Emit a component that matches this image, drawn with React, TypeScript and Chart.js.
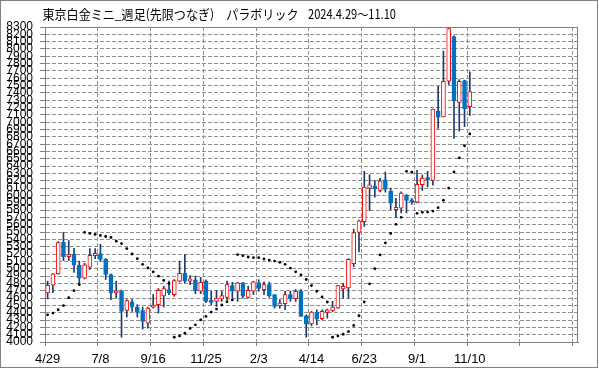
import React, { useEffect, useRef } from "react";
import { Chart, registerables } from "chart.js";

Chart.register(...registerables);

// weekly categories (2024/4/29 .. 2025/11/10, then empty future weeks)
const WEEKS = [
  "4/29", "5/6", "5/13", "5/20", "5/27", "6/3", "6/10", "6/17", "6/24", "7/1",
  "7/8", "7/15", "7/22", "7/29", "8/5", "8/12", "8/19", "8/26", "9/2", "9/9",
  "9/16", "9/23", "9/30", "10/7", "10/14", "10/21", "10/28", "11/4", "11/11", "11/18",
  "11/25", "12/2", "12/9", "12/16", "12/23", "12/30", "1/6", "1/13", "1/20", "1/27",
  "2/3", "2/10", "2/17", "2/24", "3/3", "3/10", "3/17", "3/24", "3/31", "4/7",
  "4/14", "4/21", "4/28", "5/5", "5/12", "5/19", "5/26", "6/2", "6/9", "6/16",
  "6/23", "6/30", "7/7", "7/14", "7/21", "7/28", "8/4", "8/11", "8/18", "8/25",
  "9/1", "9/8", "9/15", "9/22", "9/29", "10/6", "10/13", "10/20", "10/27", "11/3",
  "11/10", "11/17", "11/24", "12/1", "12/8", "12/15", "12/22", "12/29", "1/5", "1/12",
  "1/19", "1/26", "2/2", "2/9", "2/16", "2/23", "3/2", "3/9", "3/16", "3/23",
  "3/30",
];

const OPEN = [
  4670, 4775, 4930, 5360, 5165, 5200, 5046, 4871, 5022, 5180,
  5206, 5128, 4922, 4670, 4700, 4430, 4550, 4477, 4430, 4257,
  4477, 4509, 4629, 4716, 4647, 4830, 4936, 4830, 4850, 4693,
  4830, 4568, 4555, 4587, 4610, 4770, 4693, 4807, 4610, 4693,
  4807, 4716, 4784, 4647, 4495, 4523, 4647, 4591, 4693, 4358,
  4248, 4408, 4320, 4403, 4430, 4463, 4725, 4739, 5069, 5495,
  5642, 6101, 6128, 6069, 6215, 6060, 5807, 5826, 6010, 5940,
  5908, 6147, 6243, 6206, 7155, 7073, 7560, 8170, 7270, 7570,
  7214,
];
const HIGH = [
  4830, 4935, 5370, 5496, 5385, 5280, 5105, 5075, 5275, 5275,
  5335, 5140, 4930, 4830, 4710, 4578, 4578, 4509, 4477, 4477,
  4647, 4730, 4761, 4830, 4853, 5105, 5197, 4908, 4900, 4881,
  4849, 4693, 4703, 4693, 4830, 4816, 4816, 4816, 4761, 4830,
  4849, 4821, 4816, 4647, 4578, 4693, 4693, 4716, 4716, 4371,
  4417, 4440, 4440, 4450, 4555, 4775, 4800, 5138, 5540, 5665,
  6330, 6284, 6206, 6233, 6321, 6101, 5960, 6050, 6013, 5960,
  6344, 6280, 6330, 7178, 7490, 7972, 8280, 8180, 7583, 7575,
  7688,
];
const LOW = [
  4590, 4675, 4925, 5110, 5110, 4950, 4775, 4860, 4990, 5138,
  5100, 4853, 4578, 4600, 4065, 4340, 4417, 4340, 4175, 4188,
  4463, 4395, 4477, 4647, 4624, 4820, 4808, 4784, 4660, 4660,
  4536, 4509, 4486, 4555, 4578, 4600, 4555, 4600, 4600, 4647,
  4693, 4647, 4610, 4463, 4463, 4440, 4555, 4555, 4349, 4065,
  4220, 4234, 4303, 4326, 4415, 4460, 4600, 4600, 5027, 5229,
  5578, 5793, 5977, 6050, 6046, 5807, 5700, 5762, 5762, 5880,
  5900, 6069, 6115, 6140, 6917, 7073, 7514, 6780, 6880, 6940,
  7092,
];
const CLOSE = [
  4775, 4930, 5358, 5165, 5195, 5050, 4871, 5055, 5183, 5210,
  5128, 4922, 4670, 4700, 4417, 4564, 4477, 4404, 4280, 4463,
  4505, 4706, 4730, 4670, 4840, 4936, 4830, 4863, 4698, 4816,
  4555, 4541, 4600, 4633, 4784, 4693, 4807, 4624, 4706, 4821,
  4730, 4784, 4633, 4486, 4532, 4647, 4591, 4693, 4349, 4248,
  4408, 4316, 4417, 4440, 4477, 4770, 4761, 5128, 5495, 5655,
  6115, 6147, 6092, 6197, 6082, 5895, 5840, 6032, 5932, 5908,
  6151, 6239, 6215, 7178, 7068, 7560, 8280, 7293, 7560, 7183,
  7420,
];
// parabolic SAR
const SAR = [
  4371, 4395, 4440, 4497, 4605, 4701, 4784, 5496, 5482, 5468,
  5454, 5440, 5427, 5376, 5344, 5275, 5201, 5138, 5060, 5010,
  4958, 4899, 4840, 4800, 4065, 4083, 4120, 4185, 4234, 4303,
  4349, 4409, 4450, 4505, 4550, 4574, 5193, 5179, 5160, 5151,
  5151, 5133, 5119, 5105, 5087, 5060, 5009, 4958, 4917, 4853,
  4770, 4693, 4615, 4546, 4065, 4083, 4106, 4142, 4225, 4358,
  4546, 4794, 5000, 5188, 5353, 5482, 5606, 5702, 6330, 6318,
  5757, 5771, 5773, 5787, 5834, 5935, 6101, 6321, 6514, 6679,
  6840,
];

const Y_MIN = 4000;
const Y_MAX = 8300;
const Y_STEP = 100;

const TITLE_MAIN = "東京白金ミニ_週足(先限つなぎ)　パラボリック";
const TITLE_PERIOD = "2024.4.29〜11.10";

const RED = "#FF0000";
const BLUE = "#0070C0";
const WICK = "#1F3A6E";
const GRID = "#909090";
const FRAME = "#808080";

const decorPlugin = {
  id: "decor",
  beforeDraw(chart: any) {
    const { ctx, width, height } = chart;
    ctx.save();
    ctx.fillStyle = "#FFFFFF";
    ctx.fillRect(0, 0, width, height);
    ctx.restore();
  },
  afterDraw(chart: any) {
    const { ctx, chartArea: a, width, height } = chart;
    ctx.save();
    ctx.strokeStyle = FRAME;
    ctx.lineWidth = 1;
    ctx.setLineDash([]);
    ctx.strokeRect(
      Math.round(a.left) + 0.5,
      Math.round(a.top) + 0.5,
      Math.round(a.right) - Math.round(a.left) - 1,
      Math.round(a.bottom) - Math.round(a.top)
    );
    ctx.strokeRect(0.5, 0.5, width - 2, height - 2);
    ctx.fillStyle = "#000000";
    ctx.font = '13px "Noto Sans CJK JP"';
    ctx.textBaseline = "middle";
    ctx.textAlign = "left";
    ctx.fillText(TITLE_MAIN, 42.5, 14, 256);
    ctx.fillText(TITLE_PERIOD, 308, 14, 88);
    ctx.restore();
  },
};

export default function App() {
  const ref = useRef<HTMLCanvasElement | null>(null);

  useEffect(() => {
    if (!ref.current) return;
    const up = CLOSE.map((c, i) => c >= OPEN[i]);
    const bodies = CLOSE.map((c, i) => [Math.min(OPEN[i], c), Math.max(OPEN[i], c)]);
    const wicks = CLOSE.map((_, i) => [LOW[i], HIGH[i]]);
    const yTicks: number[] = [];
    for (let v = Y_MIN; v <= Y_MAX; v += Y_STEP) yTicks.push(v);

    const chart = new Chart(ref.current, {
      type: "bar",
      data: {
        labels: WEEKS,
        datasets: [
          {
            type: "line",
            data: SAR,
            showLine: false,
            pointRadius: 1.4,
            pointHoverRadius: 1.4,
            pointBackgroundColor: "#000000",
            pointBorderWidth: 0,
            order: 0,
          } as any,
          {
            type: "bar",
            data: bodies as any,
            backgroundColor: up.map((u) => (u ? "#FFFFFF" : BLUE)),
            borderColor: up.map((u) => (u ? RED : BLUE)),
            borderWidth: 1,
            borderSkipped: false,
            barThickness: 4,
            grouped: false,
            order: 1,
          } as any,
          {
            type: "bar",
            data: wicks as any,
            backgroundColor: WICK,
            borderWidth: 0,
            barThickness: 1,
            grouped: false,
            order: 2,
          } as any,
        ],
      },
      options: {
        responsive: false,
        animation: false,
        devicePixelRatio: 1,
        layout: { padding: { left: 0, top: 27, right: 21, bottom: 0 } },
        plugins: {
          legend: { display: false },
          tooltip: { enabled: false },
          title: { display: false },
        },
        events: [],
        scales: {
          x: {
            type: "category",
            offset: true,
            grid: {
              offset: true,
              color: (c: any) => (c.index % 10 === 0 ? GRID : "rgba(0,0,0,0)"),
              tickColor: (c: any) => (c.index % 10 === 0 ? FRAME : "rgba(0,0,0,0)"),
              tickLength: 4,
              lineWidth: 1,
              tickBorderDash: [],
            } as any,
            border: { display: true, color: FRAME, width: 1, dash: [4, 2] },
            ticks: {
              autoSkip: false,
              maxRotation: 0,
              minRotation: 0,
              padding: 6,
              color: "#000000",
              font: { family: '"Liberation Sans", Arial, sans-serif', size: 13 },
              callback: (_v: any, i: number) =>
                i % 10 === 0 && i < OPEN.length ? WEEKS[i] : "",
            },
            afterFit: (s: any) => {
              s.height = 27;
            },
          },
          y: {
            type: "linear",
            min: Y_MIN,
            max: Y_MAX,
            grid: {
              color: GRID,
              tickColor: FRAME,
              tickLength: 5,
              lineWidth: 1,
              tickBorderDash: [],
            } as any,
            border: { display: true, color: FRAME, width: 1, dash: [4, 2] },
            ticks: {
              stepSize: Y_STEP,
              autoSkip: false,
              padding: 7,
              color: "#000000",
              font: { family: '"Liberation Sans", Arial, sans-serif', size: 12 },
              callback: (v: any) => String(v),
            },
            afterBuildTicks: (s: any) => {
              s.ticks = yTicks.map((v) => ({ value: v }));
            },
            afterFit: (s: any) => {
              s.width = 45;
            },
          },
        },
      },
      plugins: [decorPlugin],
    });
    return () => chart.destroy();
  }, []);

  return (
    <div style={{ position: "fixed", left: 0, top: 0, width: 599, height: 369, background: "#fff" }}>
      <canvas ref={ref} width={599} height={369} style={{ display: "block", width: 599, height: 369 }} />
    </div>
  );
}
